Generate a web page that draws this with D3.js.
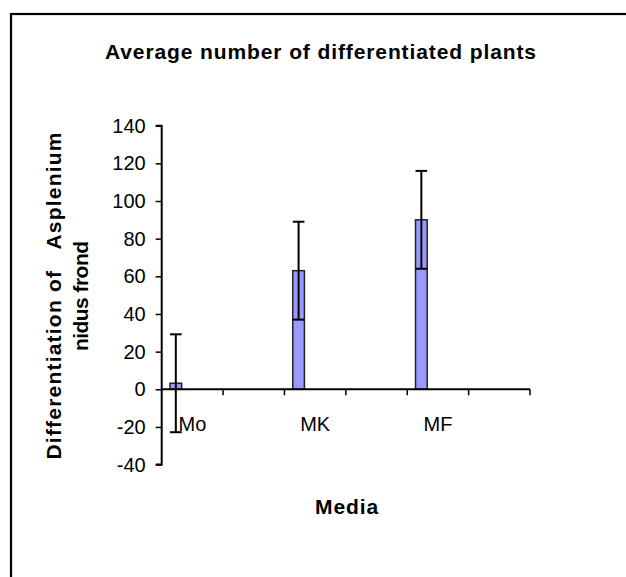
<!DOCTYPE html>
<html>
<head>
<meta charset="utf-8">
<script src="https://cdn.jsdelivr.net/npm/d3@7"></script>
<style>
  html, body { margin: 0; padding: 0; background: #fff; }
  svg { display: block; }
  text { font-family: "Liberation Sans", Arial, sans-serif; fill: #000; }
</style>
</head>
<body>
<svg id="chart" width="626" height="577"></svg>
<script>
// ---- data ----
const categories = ["Mo", "", "MK", "", "MF", ""];
const seriesValues = [3.2, null, 63, null, 90, null];
const errorValues = [26, null, 26, null, 26, null];
const yTicks = [-40, -20, 0, 20, 40, 60, 80, 100, 120, 140];
const chartTitle = "Average number of differentiated plants";
const yTitleLines = ["Differentiation of   Asplenium", "nidus frond"];
const xTitle = "Media";

const svg = d3.select("#chart");

// outer frame
svg.append("rect")
  .attr("x", 11).attr("y", 14)
  .attr("width", 640).attr("height", 600)
  .attr("fill", "none").attr("stroke", "#000").attr("stroke-width", 2.2);

const x = d3.scaleBand().domain(categories.map((c, i) => i)).range([161.7, 530]).padding(0);
const y = d3.scaleLinear().domain([-40, 140]).range([464.6, 125.7]);

// y axis
const yAxis = d3.axisLeft(y).tickValues(yTicks).tickSize(6).tickPadding(10).tickFormat(d => String(d));
const gy = svg.append("g").attr("transform", "translate(161.7,0)").call(yAxis);
gy.select(".domain").attr("stroke", "#000").attr("stroke-width", 2).attr("d", `M-6,${y(-40)}H0V${y(140)}H-6`);
gy.selectAll(".tick line").attr("stroke", "#000").attr("stroke-width", 1.5);
gy.selectAll(".tick text").attr("font-size", 20).attr("font-family", "Liberation Sans, Arial, sans-serif").attr("fill", "#000");

// bars
const bw = x.bandwidth();
const bars = svg.append("g");
categories.forEach((c, i) => {
  const v = seriesValues[i];
  if (v == null) return;
  const bx = x(i) + bw * 0.135;
  const w = bw * 0.19;
  bars.append("rect")
    .attr("x", bx).attr("y", y(v))
    .attr("width", w).attr("height", y(0) - y(v))
    .attr("fill", "#9999FF").attr("stroke", "#222").attr("stroke-width", 1.5);
});

// x axis (at zero)
const gx = svg.append("g").attr("transform", `translate(0,${y(0)})`);
gx.append("line").attr("x1", 161.7).attr("x2", 530).attr("y1", 0).attr("y2", 0)
  .attr("stroke", "#000").attr("stroke-width", 2);
categories.forEach((c, i) => {
  const tx = x(i) + bw;
  gx.append("line").attr("x1", tx).attr("x2", tx).attr("y1", 0).attr("y2", 6)
    .attr("stroke", "#000").attr("stroke-width", 1.5);
});

// error bars
const eb = svg.append("g");
categories.forEach((c, i) => {
  const v = seriesValues[i];
  if (v == null) return;
  const e = errorValues[i];
  const cx = x(i) + bw * 0.135 + bw * 0.095;
  const hw = bw * 0.095;
  eb.append("line").attr("x1", cx).attr("x2", cx).attr("y1", y(v + e)).attr("y2", y(v - e))
    .attr("stroke", "#000").attr("stroke-width", 2);
  [v + e, v - e].forEach(val => {
    eb.append("line").attr("x1", cx - hw).attr("x2", cx + hw).attr("y1", y(val)).attr("y2", y(val))
      .attr("stroke", "#000").attr("stroke-width", 2);
  });
});

// category labels
categories.forEach((c, i) => {
  if (!c) return;
  svg.append("text")
    .attr("x", x(i) + bw / 2).attr("y", 431)
    .attr("text-anchor", "middle").attr("font-size", 20)
    .text(c);
});

// title
svg.append("text").attr("x", 320.5).attr("y", 59)
  .attr("text-anchor", "middle").attr("font-size", 21).attr("font-weight", "bold")
  .attr("textLength", 431).attr("lengthAdjust", "spacing")
  .text(chartTitle);

// x title
svg.append("text").attr("x", 346.6).attr("y", 514)
  .attr("text-anchor", "middle").attr("font-size", 21).attr("font-weight", "bold")
  .attr("textLength", 63).attr("lengthAdjust", "spacing")
  .text(xTitle);

// y title
const yt = svg.append("g").attr("transform", "translate(0,296) rotate(-90)");
yt.append("text").attr("x", 0).attr("y", 61)
  .attr("text-anchor", "middle").attr("font-size", 21).attr("font-weight", "bold")
  .attr("xml:space", "preserve")
  .attr("textLength", 327).attr("lengthAdjust", "spacing")
  .text(yTitleLines[0]);
yt.append("text").attr("x", 0).attr("y", 88)
  .attr("text-anchor", "middle").attr("font-size", 21).attr("font-weight", "bold")
  .attr("textLength", 110).attr("lengthAdjust", "spacing")
  .text(yTitleLines[1]);
</script>
</body>
</html>
